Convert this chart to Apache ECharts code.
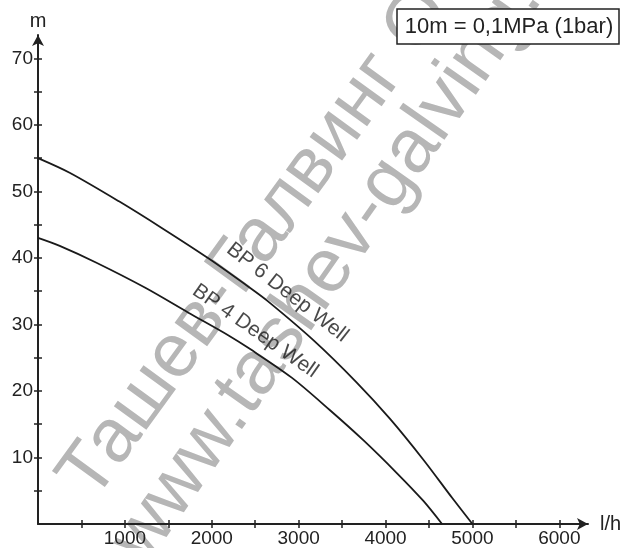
<!DOCTYPE html>
<html>
<head>
<meta charset="utf-8">
<script src="https://cdn.jsdelivr.net/npm/echarts@6/dist/echarts.min.js"></script>
<style>
html,body{margin:0;padding:0;background:#fff;}
#c{width:632px;height:548px;}
</style>
</head>
<body>
<div id="c"></div>
<script>
// ---- data ----
const bp6Flow = [0, 364, 932, 1424, 1965, 2418, 2644, 3172, 3666, 4052, 4433, 4768, 5000];
const bp6Head = [55, 52.8, 48.5, 44.5, 39.9, 35.7, 33.5, 27.6, 21.3, 15.8, 9.7, 3.9, 0];
const bp4Flow = [0, 250, 667, 1235, 1726, 2198, 2428, 2920, 3361, 3744, 4127, 4433, 4650];
const bp4Head = [43, 41.8, 39.3, 35.5, 31.8, 28.3, 26.4, 22.0, 17.1, 12.6, 7.7, 3.5, 0];
const seriesNames = ['BP 6 Deep Well', 'BP 4 Deep Well'];
const xTickValues = [500, 1000, 1500, 2000, 2500, 3000, 3500, 4000, 4500, 5000, 5500, 6000];
const xLabelValues = [1000, 2000, 3000, 4000, 5000, 6000];
const yTickValues = [5, 10, 15, 20, 25, 30, 35, 40, 45, 50, 55, 60, 65, 70];
const yLabelValues = [10, 20, 30, 40, 50, 60, 70];
const xUnit = 'l/h';
const yUnit = 'm';
const noteText = '10m = 0,1MPa (1bar)';
const watermark1 = 'Ташев-Галвинг ООД';
const watermark2 = 'www.tashev-galving.com';

function pairs(xs, ys) { return xs.map((x, i) => [x, ys[i]]); }

const FONT = 'Liberation Sans, Arial, sans-serif';
const INK = '#222';
const chart = echarts.init(document.getElementById('c'), null, {renderer: 'canvas'});

const baseX = {
  type: 'value', min: 0, max: 6330, gridIndex: 0,
  splitLine: {show: false},
};
const baseY = {
  type: 'value', min: 0, max: 73.5, gridIndex: 0,
  splitLine: {show: false},
};
const plain = v => String(v);

const option = {
  animation: false,
  backgroundColor: '#fff',
  grid: {left: 38, right: 44, top: 35, bottom: 23, containLabel: false},
  xAxis: [
    Object.assign({}, baseX, {
      position: 'bottom',
      name: xUnit, nameLocation: 'end', nameGap: 12,
      nameTextStyle: {fontFamily: FONT, fontSize: 20, color: INK, verticalAlign: 'middle'},
      axisLine: {show: true, lineStyle: {color: INK, width: 2}, symbol: ['none', 'arrow'], symbolSize: [9, 11]},
      axisTick: {show: true, inside: false, length: 4, lineStyle: {color: INK, width: 1.5}, customValues: xTickValues},
      axisLabel: {show: true, fontFamily: FONT, fontSize: 19, color: INK, margin: 5, customValues: xLabelValues, formatter: plain},
    }),
    Object.assign({}, baseX, {
      position: 'bottom',
      axisLine: {show: false},
      axisTick: {show: true, inside: true, length: 4, lineStyle: {color: INK, width: 1.5}, customValues: xTickValues},
      axisLabel: {show: false},
    }),
  ],
  yAxis: [
    Object.assign({}, baseY, {
      position: 'left',
      name: yUnit, nameLocation: 'end', nameGap: 4,
      nameTextStyle: {fontFamily: FONT, fontSize: 20, color: INK, align: 'center'},
      axisLine: {show: true, lineStyle: {color: INK, width: 2}, symbol: ['none', 'arrow'], symbolSize: [9, 11]},
      axisTick: {show: true, inside: false, length: 4, lineStyle: {color: INK, width: 1.5}, customValues: yTickValues},
      axisLabel: {show: true, fontFamily: FONT, fontSize: 19, color: INK, margin: 5, customValues: yLabelValues, formatter: plain},
    }),
    Object.assign({}, baseY, {
      position: 'left',
      axisLine: {show: false},
      axisTick: {show: true, inside: true, length: 4, lineStyle: {color: INK, width: 1.5}, customValues: yTickValues},
      axisLabel: {show: false},
    }),
  ],
  graphic: [
    {
      type: 'text', z: 0, x: 107, y: 513, rotation: 54 * Math.PI / 180,
      style: {text: watermark1, font: '76px ' + FONT, fill: '#b6b6b6', textVerticalAlign: 'bottom'},
      silent: true,
    },
    {
      type: 'text', z: 0, x: 160, y: 576, rotation: 55 * Math.PI / 180,
      style: {text: watermark2, font: '76px ' + FONT, fill: '#b6b6b6', textVerticalAlign: 'bottom'},
      silent: true,
    },
    {
      type: 'rect', z: 50,
      shape: {x: 397, y: 9, width: 222, height: 35},
      style: {fill: '#fff', stroke: INK, lineWidth: 1.5},
    },
    {
      type: 'text', z: 51, x: 509, y: 27,
      style: {text: noteText, font: '22px ' + FONT, fill: INK, textAlign: 'center', textVerticalAlign: 'middle'},
    },
  ],
  series: [
    {
      name: seriesNames[0], type: 'line', xAxisIndex: 0, yAxisIndex: 0, z: 5,
      data: pairs(bp6Flow, bp6Head), showSymbol: false, symbol: 'none',
      smooth: 0.3,
      lineStyle: {color: '#1a1a1a', width: 1.8},
    },
    {
      name: seriesNames[1], type: 'line', xAxisIndex: 0, yAxisIndex: 0, z: 5,
      data: pairs(bp4Flow, bp4Head), showSymbol: false, symbol: 'none',
      smooth: 0.3,
      lineStyle: {color: '#1a1a1a', width: 1.8},
    },
    {
      type: 'scatter', xAxisIndex: 0, yAxisIndex: 0, z: 6, symbolSize: 0, silent: true,
      data: [
        {value: [2870, 34.8], label: {formatter: seriesNames[0], rotate: -38}},
        {value: [2500, 29.0], label: {formatter: seriesNames[1], rotate: -35}},
      ],
      label: {show: true, position: 'inside', fontFamily: FONT, fontSize: 21, color: '#1a1a1a'},
    },
  ],
};
chart.setOption(option);
</script>
</body>
</html>
